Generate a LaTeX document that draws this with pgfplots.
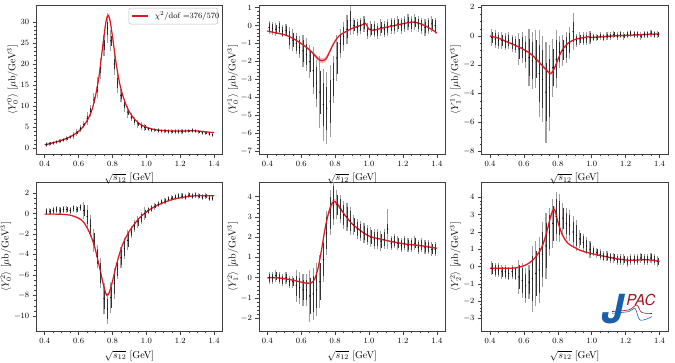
\documentclass[border=0pt]{standalone}
\usepackage{fontspec}
\usepackage{pgfplots}
\usepackage{pgfplotstable}
\pgfplotsset{compat=1.18}
\usepgfplotslibrary{groupplots,fillbetween}
\usetikzlibrary{calc}
\newfontfamily\heros{TeX Gyre Heros}
\definecolor{fitred}{RGB}{220,25,35}
\definecolor{jpacblue}{RGB}{25,95,170}
\definecolor{jpacred}{RGB}{165,20,30}

% data: value, stat error (black), total error (gray) for the six moments
\pgfplotstableread{
x a ae ag b be bg c ce cg d de dg e ee eg f fe fg
0.41 0.9 0.3 0.5 -0.10 0.25 0.35 -0.1 0.4 0.6 0.2 0.25 0.35 0.0 0.2 0.3 -0.1 0.3 0.4
0.43 1.1 0.3 0.5 -0.15 0.25 0.35 -0.2 0.4 0.6 0.2 0.25 0.35 0.0 0.2 0.3 -0.2 0.3 0.4
0.45 1.3 0.3 0.5 -0.20 0.25 0.35 -0.3 0.4 0.6 0.3 0.25 0.35 0.1 0.2 0.3 -0.2 0.3 0.4
0.47 1.5 0.3 0.5 -0.10 0.25 0.35 -0.3 0.4 0.6 0.4 0.25 0.35 0.0 0.2 0.3 -0.3 0.3 0.4
0.49 1.7 0.3 0.5 -0.30 0.25 0.35 -0.4 0.4 0.6 0.3 0.25 0.35 -0.1 0.2 0.3 -0.3 0.3 0.4
0.51 2.0 0.3 0.5 -0.25 0.25 0.35 -0.3 0.4 0.6 0.4 0.25 0.35 0.0 0.2 0.3 -0.4 0.3 0.4
0.53 2.3 0.3 0.5 -0.70 0.4 0.6 -0.5 0.4 0.6 0.4 0.25 0.35 -0.2 0.2 0.3 -0.3 0.3 0.4
0.55 2.7 0.3 0.5 -0.80 0.4 0.6 -0.6 0.4 0.6 0.3 0.25 0.35 -0.2 0.2 0.3 -0.4 0.3 0.4
0.57 3.1 0.4 0.8 -1.00 0.4 0.6 -0.9 0.7 1.1 0.5 0.25 0.35 -0.4 0.5 0.8 -0.6 0.7 1.0
0.59 3.8 0.4 0.8 -1.20 0.4 0.6 -0.8 0.7 1.1 0.4 0.25 0.35 -0.5 0.5 0.8 -0.8 0.7 1.0
0.61 4.6 0.4 0.8 -1.40 0.6 0.9 -1.1 0.7 1.1 0.6 0.25 0.35 -0.6 0.5 0.8 -1.1 0.7 1.0
0.63 5.6 0.4 0.8 -1.60 0.6 0.9 -1.5 1.3 2.0 0.3 0.5 0.8 -0.6 0.5 0.8 -0.9 0.7 1.0
0.65 7.0 0.7 1.5 -2.00 0.6 0.9 -1.7 1.3 2.0 -0.3 0.7 1.1 -0.9 0.9 1.3 -0.7 1.3 1.9
0.67 8.8 0.7 1.5 -2.50 0.9 1.3 -1.6 1.3 2.0 -1.2 0.7 1.1 -0.8 0.9 1.3 -0.4 1.3 1.9
0.69 11.5 0.7 1.5 -3.20 0.9 1.3 -2.6 2.0 3.0 -2.6 0.7 1.1 -0.6 0.9 1.3 -0.2 1.3 1.9
0.71 14.5 1.2 2.5 -3.70 1.2 2.0 -3.0 2.0 3.0 -4.2 0.7 1.1 -0.2 0.9 1.3 0.7 1.3 1.9
0.73 19.0 1.2 2.5 -4.40 1.2 2.0 -3.9 2.0 3.5 -5.8 1.0 1.5 0.9 0.8 1.1 1.2 1.3 1.9
0.75 24.5 1.2 2.5 -4.60 1.2 2.0 -3.6 2.0 3.0 -8.3 1.0 1.5 2.2 0.8 1.1 2.0 1.0 1.4
0.77 28.5 1.5 3.5 -4.20 1.2 2.0 -2.2 1.3 2.0 -9.3 1.0 1.5 3.2 0.8 1.1 2.5 1.0 1.4
0.79 25.5 1.2 2.5 -3.00 0.9 1.3 -1.6 1.3 2.0 -8.2 1.0 1.5 3.7 0.8 1.1 2.9 1.0 1.4
0.81 20.0 1.2 2.5 -1.80 0.9 1.3 -1.1 0.7 1.1 -6.8 1.0 1.5 3.6 0.5 0.7 2.8 1.0 1.4
0.83 15.5 1.2 2.5 -1.00 0.5 0.8 -1.0 0.7 1.1 -5.4 0.7 1.0 3.4 0.5 0.7 2.8 0.6 0.9
0.85 12.5 0.7 1.5 -0.60 0.5 0.8 -0.8 0.7 1.1 -4.3 0.7 1.0 3.1 0.5 0.7 2.5 0.6 0.9
0.87 10.2 0.7 1.5 -0.20 0.5 0.8 -0.5 0.7 1.1 -3.4 0.7 1.0 3.0 0.5 0.7 2.4 0.6 0.9
0.89 8.6 0.7 1.5 0.30 0.5 0.8 0.3 0.7 1.3 -2.6 0.7 1.0 2.8 0.5 0.7 2.0 0.6 0.9
0.91 7.4 0.5 0.9 0.00 0.3 0.45 -0.3 0.3 0.45 -1.8 0.4 0.6 2.6 0.35 0.5 1.8 0.6 0.9
0.93 6.5 0.5 0.9 -0.10 0.3 0.45 -0.2 0.3 0.45 -1.2 0.4 0.6 2.4 0.35 0.5 1.6 0.35 0.5
0.95 5.8 0.5 0.9 0.00 0.3 0.45 -0.2 0.3 0.45 -0.8 0.4 0.6 2.3 0.35 0.5 1.4 0.35 0.5
0.97 5.3 0.5 0.9 0.10 0.3 0.45 -0.2 0.3 0.45 -0.4 0.4 0.6 2.2 0.35 0.5 1.2 0.35 0.5
0.99 4.9 0.5 0.9 -0.30 0.3 0.45 -0.1 0.3 0.45 0.0 0.4 0.6 2.1 0.35 0.5 1.0 0.35 0.5
1.01 4.6 0.3 0.5 -0.20 0.3 0.45 -0.1 0.15 0.25 0.3 0.2 0.3 2.0 0.35 0.5 0.9 0.2 0.3
1.03 4.4 0.3 0.5 -0.20 0.3 0.45 -0.1 0.15 0.25 0.5 0.2 0.3 1.9 0.35 0.5 0.8 0.2 0.3
1.05 4.3 0.3 0.5 -0.30 0.3 0.45 0.0 0.15 0.25 0.7 0.2 0.3 1.9 0.35 0.5 0.7 0.2 0.3
1.07 4.2 0.3 0.5 -0.10 0.3 0.45 -0.1 0.15 0.25 0.9 0.2 0.3 1.8 0.35 0.5 0.6 0.2 0.3
1.09 4.1 0.3 0.5 -0.20 0.3 0.45 0.0 0.15 0.25 1.1 0.2 0.3 1.9 0.35 0.5 0.6 0.2 0.3
1.11 4.1 0.3 0.5 -0.10 0.3 0.45 0.0 0.15 0.25 1.2 0.2 0.3 2.4 0.25 1.0 0.5 0.2 0.3
1.13 4.0 0.3 0.5 0.00 0.3 0.45 0.1 0.15 0.25 1.4 0.2 0.3 1.7 0.25 0.35 0.5 0.2 0.3
1.15 4.0 0.3 0.5 0.00 0.3 0.45 0.0 0.15 0.25 1.5 0.2 0.3 1.8 0.25 0.35 0.4 0.2 0.3
1.17 4.0 0.3 0.5 0.10 0.3 0.45 0.1 0.15 0.25 1.6 0.2 0.3 1.7 0.25 0.35 0.4 0.2 0.3
1.19 4.0 0.3 0.5 0.00 0.3 0.45 0.0 0.15 0.25 1.7 0.2 0.3 1.6 0.25 0.35 0.4 0.2 0.3
1.21 4.0 0.3 0.5 0.10 0.3 0.45 0.1 0.15 0.25 1.7 0.2 0.3 1.7 0.25 0.35 0.3 0.2 0.3
1.23 4.1 0.3 0.5 0.20 0.3 0.45 0.2 0.15 0.25 1.6 0.2 0.3 1.6 0.25 0.35 0.4 0.2 0.3
1.25 4.1 0.3 0.5 0.10 0.3 0.45 0.1 0.15 0.25 1.8 0.2 0.3 1.6 0.25 0.35 0.4 0.2 0.3
1.27 4.2 0.3 0.5 0.20 0.3 0.45 0.1 0.15 0.25 1.7 0.2 0.3 1.7 0.25 0.35 0.4 0.2 0.3
1.29 4.1 0.3 0.5 0.10 0.3 0.45 0.0 0.15 0.25 1.8 0.2 0.3 1.5 0.25 0.35 0.5 0.2 0.3
1.31 3.9 0.3 0.5 0.00 0.3 0.45 0.1 0.15 0.25 1.7 0.2 0.3 1.6 0.25 0.35 0.4 0.2 0.3
1.33 3.7 0.3 0.5 -0.10 0.3 0.45 0.1 0.15 0.25 1.6 0.2 0.3 1.5 0.25 0.35 0.4 0.2 0.3
1.35 3.6 0.3 0.5 0.00 0.3 0.45 0.2 0.15 0.25 1.7 0.2 0.3 1.5 0.25 0.35 0.5 0.2 0.3
1.37 3.4 0.3 0.5 0.10 0.3 0.45 0.1 0.15 0.25 1.5 0.2 0.3 1.4 0.25 0.35 0.4 0.2 0.3
1.39 3.2 0.3 0.5 0.00 0.3 0.45 0.1 0.15 0.25 1.5 0.2 0.3 1.4 0.25 0.35 0.3 0.2 0.3
}\data

% fit curves: central value and half width of the band
\pgfplotstableread{
x fa wa fb wb fc wc fd wd fe we ff wf
0.40 0.8 0.15 -0.30 0.04 0.00 0.05 -0.05 0.05 0.00 0.04 -0.10 0.04
0.45 1.3 0.15 -0.40 0.04 -0.15 0.05 -0.05 0.05 0.00 0.04 -0.10 0.04
0.50 1.9 0.15 -0.50 0.04 -0.40 0.05 -0.07 0.05 -0.05 0.04 -0.10 0.04
0.55 2.7 0.15 -0.70 0.04 -0.65 0.05 -0.15 0.05 -0.12 0.04 -0.08 0.04
0.60 4.0 0.15 -1.00 0.05 -0.95 0.06 -0.45 0.06 -0.22 0.04 0.05 0.04
0.63 5.3 0.15 -1.20 0.06 -1.15 0.07 -0.85 0.07 -0.27 0.05 0.20 0.05
0.66 7.3 0.20 -1.45 0.08 -1.45 0.08 -1.70 0.08 -0.25 0.05 0.45 0.06
0.68 9.3 0.20 -1.65 0.11 -1.70 0.09 -2.50 0.10 -0.05 0.06 0.70 0.08
0.70 12.5 0.25 -1.85 0.13 -1.95 0.10 -3.60 0.12 0.50 0.07 1.00 0.10
0.72 17.0 0.30 -1.95 0.14 -2.20 0.11 -5.00 0.13 1.40 0.09 1.50 0.12
0.74 23.5 0.40 -1.90 0.14 -2.45 0.12 -6.50 0.15 2.40 0.11 2.20 0.15
0.755 28.3 0.50 -1.70 0.12 -2.60 0.13 -7.50 0.16 3.00 0.13 2.80 0.18
0.765 30.8 0.50 -1.50 0.10 -2.55 0.13 -7.95 0.16 3.30 0.14 3.10 0.20
0.775 31.5 0.50 -1.30 0.08 -2.35 0.12 -7.90 0.16 3.55 0.15 3.30 0.20
0.785 30.4 0.50 -1.10 0.07 -2.10 0.11 -7.50 0.15 3.70 0.15 3.20 0.19
0.80 26.5 0.40 -0.85 0.06 -1.65 0.09 -6.60 0.13 3.75 0.14 2.60 0.15
0.82 20.5 0.30 -0.60 0.05 -1.10 0.07 -5.20 0.10 3.55 0.11 2.00 0.10
0.84 15.8 0.25 -0.45 0.04 -0.75 0.06 -4.00 0.08 3.30 0.08 1.60 0.07
0.86 12.6 0.20 -0.35 0.04 -0.50 0.05 -3.00 0.07 3.05 0.06 1.35 0.05
0.88 10.3 0.15 -0.25 0.04 -0.35 0.05 -2.30 0.06 2.85 0.05 1.20 0.04
0.90 8.6 0.15 -0.15 0.04 -0.25 0.05 -1.70 0.05 2.65 0.04 1.10 0.04
0.93 6.9 0.15 -0.05 0.04 -0.15 0.05 -1.00 0.05 2.45 0.04 0.95 0.04
0.96 5.8 0.15 0.05 0.04 -0.10 0.05 -0.40 0.05 2.25 0.04 0.85 0.04
0.98 5.3 0.15 0.12 0.04 -0.05 0.05 -0.10 0.05 2.15 0.04 0.80 0.04
1.00 5.0 0.15 -0.20 0.04 -0.10 0.05 0.15 0.05 2.05 0.04 0.75 0.04
1.03 4.6 0.15 -0.25 0.04 -0.08 0.05 0.50 0.05 1.97 0.04 0.68 0.04
1.07 4.3 0.15 -0.15 0.04 -0.05 0.05 0.85 0.05 1.90 0.04 0.60 0.04
1.12 4.15 0.15 -0.05 0.04 0.00 0.05 1.20 0.05 1.80 0.04 0.50 0.04
1.17 4.1 0.15 0.05 0.04 0.03 0.05 1.45 0.05 1.72 0.04 0.42 0.04
1.22 4.1 0.15 0.15 0.04 0.05 0.05 1.60 0.05 1.65 0.04 0.36 0.04
1.26 4.15 0.15 0.20 0.04 0.07 0.05 1.70 0.05 1.62 0.04 0.37 0.04
1.30 4.1 0.15 0.12 0.04 0.10 0.05 1.75 0.05 1.58 0.04 0.40 0.04
1.35 3.9 0.15 -0.10 0.04 0.12 0.05 1.75 0.05 1.52 0.04 0.38 0.04
1.40 3.7 0.15 -0.40 0.04 0.15 0.05 1.75 0.05 1.45 0.04 0.30 0.04
}\fit

% one panel: gray total errors, black stat errors, fit band and fit line
\newcommand{\panel}[1]{%
  \addplot[draw=none, mark=none, forget plot,
    error bars/.cd, y dir=both, y explicit, error mark=none,
    error bar style={draw=black!38, line width=1.1pt}]
    table[x=x, y=#1, y error=#1g] {\data};
  \addplot[draw=none, mark=*, mark size=0.45pt, forget plot,
    mark options={draw=black, fill=black, line width=0.2pt},
    error bars/.cd, y dir=both, y explicit, error mark=none,
    error bar style={draw=black!80, line width=0.4pt}]
    table[x=x, y=#1, y error=#1e] {\data};
  \addplot[name path=up#1, draw=none, mark=none, smooth, forget plot]
    table[x=x, y expr=\thisrow{f#1}+\thisrow{w#1}] {\fit};
  \addplot[name path=lo#1, draw=none, mark=none, smooth, forget plot]
    table[x=x, y expr=\thisrow{f#1}-\thisrow{w#1}] {\fit};
  \addplot[fill=fitred, fill opacity=0.3, draw=none, forget plot]
    fill between[of=up#1 and lo#1];
  \addplot[fitred, mark=none, line width=1.2pt, smooth, forget plot]
    table[x=x, y=f#1] {\fit};
}

\begin{document}
\begin{tikzpicture}
\begin{groupplot}[
  group style={group size=3 by 2, horizontal sep=36bp, vertical sep=28bp},
  scale only axis, width=185bp, height=148bp,
  xmin=0.35, xmax=1.45,
  xtick={0.4,0.6,0.8,1.0,1.2,1.4},
  xticklabel style={/pgf/number format/.cd, fixed, fixed zerofill, precision=1},
  minor x tick num=3,
  tick pos=left, tick align=outside,
  major tick length=3.5bp, minor tick length=2bp,
  every tick/.style={black!75, line width=0.5pt},
  axis line style={black!75, line width=0.6pt},
  tick label style={font=\fontsize{8}{9}\selectfont},
  label style={font=\fontsize{10}{12}\selectfont},
  xlabel={$\sqrt{s_{12}}$ [GeV]},
  ylabel shift=-4bp,
]
\nextgroupplot[ymin=-1.4, ymax=34, ytick={0,5,10,15,20,25,30}, minor y tick num=4,
  ylabel={$\langle Y^0_0\rangle$ [$\mu$b/GeV$^3$]}]
\panel{a}
% legend box
\draw[black!25, fill=white, rounded corners=2pt, line width=0.5pt]
  (rel axis cs:0.497,0.872) rectangle (rel axis cs:0.973,0.98);
\draw[fitred, line width=1.2pt] (rel axis cs:0.515,0.926) -- (rel axis cs:0.60,0.926);
\node[anchor=west, inner sep=0, font=\fontsize{8}{9}\selectfont]
  at (rel axis cs:0.635,0.926) {$\chi^2/\mathrm{dof}$ =376/570};

\nextgroupplot[ymin=-7.15, ymax=1.15, ytick={-7,-6,-5,-4,-3,-2,-1,0,1}, minor y tick num=4,
  ylabel={$\langle Y^1_0\rangle$ [$\mu$b/GeV$^3$]}]
\panel{b}

\nextgroupplot[ymin=-8.2, ymax=2.15, ytick={-8,-6,-4,-2,0,2}, minor y tick num=3,
  ylabel={$\langle Y^1_1\rangle$ [$\mu$b/GeV$^3$]}]
\panel{c}

\nextgroupplot[ymin=-11.5, ymax=3.05, ytick={-10,-8,-6,-4,-2,0,2}, minor y tick num=3,
  ylabel={$\langle Y^2_0\rangle$ [$\mu$b/GeV$^3$]}]
\panel{d}

\nextgroupplot[ymin=-2.65, ymax=4.7, ytick={-2,-1,0,1,2,3,4}, minor y tick num=4,
  ylabel={$\langle Y^2_1\rangle$ [$\mu$b/GeV$^3$]}]
\panel{e}

\nextgroupplot[ymin=-3.75, ymax=4.87, ytick={-3,-2,-1,0,1,2,3,4}, minor y tick num=4,
  ylabel={$\langle Y^2_2\rangle$ [$\mu$b/GeV$^3$]}]
\panel{f}
% JPAC logo
\draw[jpacred, line width=0.6pt] plot[smooth] coordinates {(axis cs:1.12,-2.6) (axis cs:1.22,-2.5) (axis cs:1.266,-2.22) (axis cs:1.295,-2.65) (axis cs:1.355,-2.71)};
\draw[jpacblue, line width=0.6pt] plot[smooth] coordinates {(axis cs:1.12,-2.7) (axis cs:1.22,-2.6) (axis cs:1.256,-2.42) (axis cs:1.286,-3.1) (axis cs:1.355,-2.9)};
\node[font=\heros\bfseries\itshape\fontsize{40}{40}\selectfont, text=jpacblue, inner sep=0] at (axis cs:1.125,-2.45) {J};
\node[font=\heros\itshape\fontsize{15}{15}\selectfont, text=jpacred, inner sep=0] at (axis cs:1.29,-1.95) {PAC};
\end{groupplot}
\pgfresetboundingbox
\path[use as bounding box] ($(group c1r1.north west)+(-36bp,5bp)$) rectangle ($(group c3r2.south east)+(7bp,-31bp)$);
\end{tikzpicture}
\end{document}
